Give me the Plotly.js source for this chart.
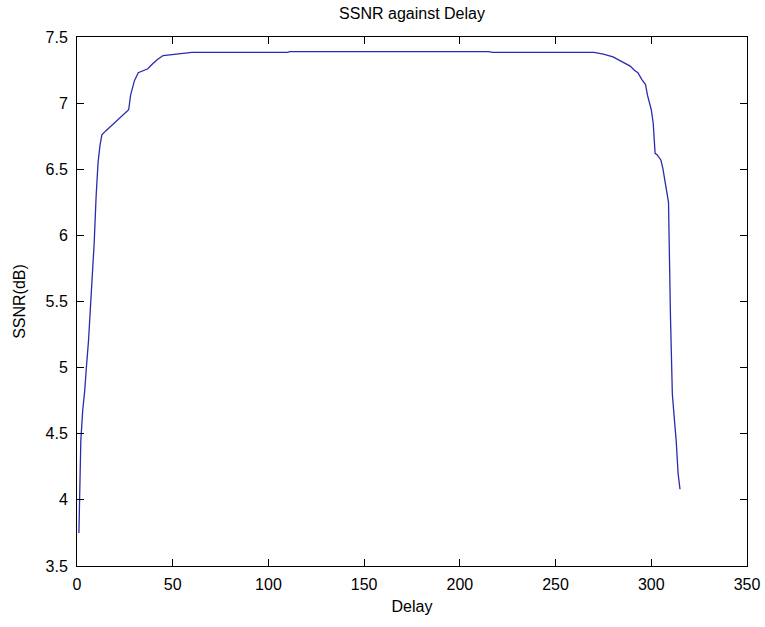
<!DOCTYPE html>
<html>
<head>
<meta charset="utf-8">
<script src="https://cdn.plot.ly/plotly-3.0.1.min.js"></script>
<style>html,body{margin:0;padding:0;background:#fff;}#chart{width:765px;height:627px;}</style>
</head>
<body>
<div id="chart"></div>
<script>
const delay = [1,2,3,4,5,6,7,8,9,10,11,12,13,15,18,21,24,27,28,29,30,32,34,37,39,42,45,50,55,60,110,111,215,217,270,275,280,284,287,289,291,293,295,297,298,299,300,301,302,303,305,306,307,308,309,310,311,312,313,314,315];
const ssnr = [3.75,4.45,4.68,4.82,5.02,5.2,5.45,5.7,5.95,6.3,6.55,6.68,6.76,6.79,6.83,6.87,6.91,6.95,7.06,7.12,7.17,7.23,7.24,7.26,7.29,7.33,7.36,7.366,7.375,7.383,7.383,7.39,7.39,7.383,7.383,7.37,7.35,7.32,7.30,7.28,7.25,7.23,7.18,7.14,7.06,7.0,6.95,6.85,6.62,6.61,6.57,6.51,6.42,6.33,6.25,5.4,4.8,4.62,4.45,4.2,4.08];
const xTicks = [0,50,100,150,200,250,300,350];
const yTicks = [3.5,4,4.5,5,5.5,6,6.5,7,7.5];
const yTickText = ['3.5','4','4.5','5','5.5','6','6.5','7','7.5'];

const fontFam = '"Liberation Sans", Arial, sans-serif';
const trace = {
  x: delay, y: ssnr, type: 'scatter', mode: 'lines',
  line: {color: '#2b2bb0', width: 1.3}, hoverinfo: 'skip'
};
const axisCommon = {
  showgrid: false, zeroline: false, showline: true, linecolor: '#000', linewidth: 1,
  mirror: 'ticks', ticks: 'inside', ticklen: 7, tickcolor: '#000', tickwidth: 1,
  tickfont: {family: fontFam, size: 16, color: '#000'}
};
const layout = {
  width: 765, height: 627,
  margin: {l: 77, r: 18, t: 37, b: 61},
  paper_bgcolor: '#fff', plot_bgcolor: '#fff',
  showlegend: false,
  title: {text: 'SSNR against Delay', font: {family: fontFam, size: 16, color: '#000'},
          x: 0.5, xref: 'paper', y: 0.979, yref: 'container', yanchor: 'middle'},
  xaxis: Object.assign({}, axisCommon, {
    range: [0, 350], tickmode: 'array', tickvals: xTicks, ticktext: xTicks.map(String),
    ticklabelstandoff: 4,
    title: {text: 'Delay', font: {family: fontFam, size: 16, color: '#000'}, standoff: 8}
  }),
  yaxis: Object.assign({}, axisCommon, {
    range: [3.5, 7.5], tickmode: 'array', tickvals: yTicks, ticktext: yTickText,
    ticklabelstandoff: 5,
    title: {text: 'SSNR(dB)', font: {family: fontFam, size: 16, color: '#000'}, standoff: 15}
  })
};
Plotly.newPlot('chart', [trace], layout, {displayModeBar: false, staticPlot: true});
</script>
</body>
</html>
